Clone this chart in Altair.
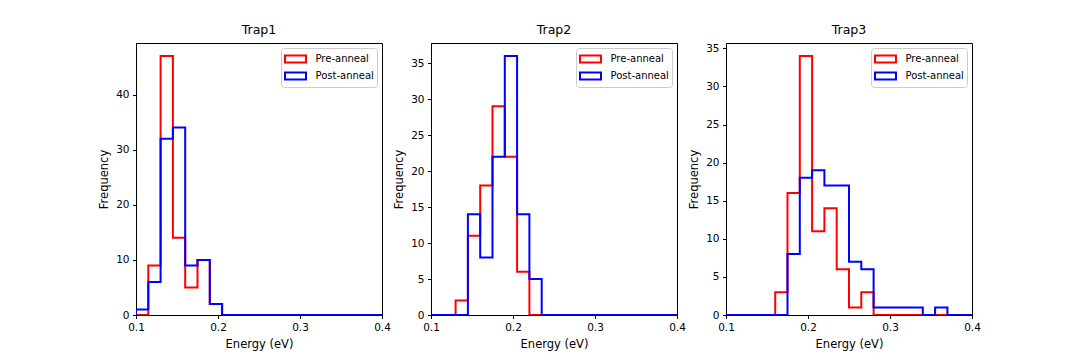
import altair as alt
import numpy as np
import pandas as pd

# ---- data ----
x_range = (0.1, 0.4)
n_bins = 20
titles = ["Trap1", "Trap2", "Trap3"]
series_names = ["Pre-anneal", "Post-anneal"]
series_colors = ["#ff0000", "#0000ff"]

trap1_pre = [0, 9, 47, 14, 5, 10, 2, 0, 0, 0, 0, 0, 0, 0, 0, 0, 0, 0, 0, 0]
trap1_post = [1, 6, 32, 34, 9, 10, 2, 0, 0, 0, 0, 0, 0, 0, 0, 0, 0, 0, 0, 0]
trap2_pre = [0, 0, 2, 11, 18, 29, 22, 6, 0, 0, 0, 0, 0, 0, 0, 0, 0, 0, 0, 0]
trap2_post = [0, 0, 0, 14, 8, 22, 36, 14, 5, 0, 0, 0, 0, 0, 0, 0, 0, 0, 0, 0]
trap3_pre = [0, 0, 0, 0, 3, 16, 34, 11, 14, 6, 1, 3, 0, 0, 0, 0, 0, 0, 0, 0]
trap3_post = [0, 0, 0, 0, 0, 8, 18, 19, 17, 17, 7, 6, 1, 1, 1, 1, 0, 1, 0, 0]

x_ticks = [0.1, 0.2, 0.3, 0.4]
y_ticks = [[0, 10, 20, 30, 40], [0, 5, 10, 15, 20, 25, 30, 35], [0, 5, 10, 15, 20, 25, 30, 35]]

edges = np.linspace(x_range[0], x_range[1], n_bins + 1)

FONT = "DejaVu Sans"
W, H = 246, 272


def step_rows(name, counts):
    xs = [edges[0]] + list(edges[:-1]) + [edges[-1], edges[-1]]
    ys = [0] + list(counts) + [counts[-1], 0]
    return [dict(series=name, x=float(x), y=float(y), k=k) for k, (x, y) in enumerate(zip(xs, ys))]


def panel(title, pre, post, yt):
    ymax = 1.05 * max(max(pre), max(post))
    df = pd.DataFrame(step_rows(series_names[0], pre) + step_rows(series_names[1], post))
    color = alt.Color(
        "series:N",
        scale=alt.Scale(domain=series_names, range=series_colors),
        legend=alt.Legend(
            title=None,
            orient="top-right",
            offset=5,
            symbolType="M-1.5,-0.5H1.5V0.5H-1.5Z",
            symbolSize=196,
            symbolFillColor="transparent",
            symbolStrokeWidth=2,
            symbolOffset=3.5,
            labelOffset=12,
            labelFontSize=10,
            labelFont=FONT,
            labelColor="black",
            fillColor="white",
            strokeColor="#cccccc",
            cornerRadius=3,
            padding=3,
            rowPadding=1,
        ),
    )
    layers = []
    for name in series_names:
        layers.append(
            alt.Chart(df)
            .transform_filter(alt.datum.series == name)
            .mark_line(interpolate="step-after", strokeWidth=2, clip=True)
            .encode(
                x=alt.X("x:Q", scale=alt.Scale(domain=list(x_range), nice=False, zero=False),
                        axis=alt.Axis(values=x_ticks, format=".1f", title="Energy (eV)",
                                      grid=False, labelFlush=False)),
                y=alt.Y("y:Q", scale=alt.Scale(domain=[0, ymax], nice=False),
                        axis=alt.Axis(values=yt, format="d", title="Frequency", grid=False)),
                order="k:Q",
                color=color,
            )
        )
    return alt.layer(*layers).properties(
        width=W, height=H,
        title=alt.TitleParams(title, fontSize=12.6, fontWeight="normal", font=FONT, offset=6, color="black"),
    )


panels = [
    panel(titles[0], trap1_pre, trap1_post, y_ticks[0]),
    panel(titles[1], trap2_pre, trap2_post, y_ticks[1]),
    panel(titles[2], trap3_pre, trap3_post, y_ticks[2]),
]

chart = (
    alt.hconcat(*panels, spacing=49, bounds="flush")
    .resolve_scale(color="independent", x="independent", y="independent")
    .resolve_legend(color="independent")
    .properties(padding={"left": 90, "top": 15, "right": 5, "bottom": 5}, background="white")
    .configure_view(stroke="black", strokeWidth=1)
    .configure_axis(
        grid=False,
        domainColor="black",
        tickColor="black",
        tickSize=3.5,
        labelFont=FONT,
        labelFontSize=10.5,
        labelColor="black",
        titleFont=FONT,
        titleFontSize=11.5,
        titleFontWeight="normal",
        titleColor="black",
        labelPadding=3.5,
        titlePadding=6,
    )
)

chart.save("out.html", embed_options={"renderer": "svg", "actions": False})
